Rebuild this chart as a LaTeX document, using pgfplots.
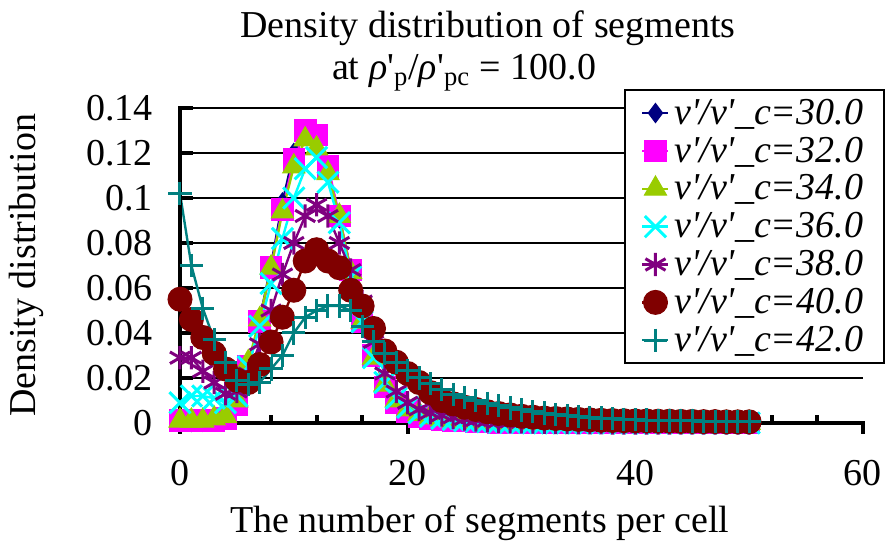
\documentclass[border=0pt]{standalone}
\usepackage{fontspec}
\setmainfont{Liberation Serif}
\usepackage{pgfplots}
\usepackage{pgfplotstable}
\pgfplotsset{compat=1.18}
\definecolor{cnavy}{HTML}{000080}
\definecolor{cmag}{HTML}{FF00FF}
\definecolor{clime}{HTML}{99CC00}
\definecolor{ccyan}{HTML}{00FFFF}
\definecolor{cpurp}{HTML}{800080}
\definecolor{cdred}{HTML}{800000}
\definecolor{cteal}{HTML}{008080}
\newcommand{\fs}{\fontsize{19}{22}\selectfont}
\newcommand{\ap}{\textquotesingle}
\pgfplotstableread{
x s30 s32 s34 s36 s38 s40 s42
0 0.0005 0.001 0.001 0.009 0.029 0.055 0.102
1 0.0005 0.001 0.001 0.012 0.029 0.046 0.070
2 0.0006 0.001 0.001 0.012 0.023 0.038 0.051
3 0.001 0.001 0.002 0.011 0.018 0.031 0.037
4 0.002 0.002 0.003 0.009 0.013 0.024 0.027
5 0.008 0.008 0.010 0.012 0.014 0.019 0.019
6 0.024 0.025 0.027 0.025 0.022 0.018 0.017
7 0.046 0.045 0.046 0.043 0.035 0.026 0.018
8 0.070 0.069 0.069 0.062 0.050 0.036 0.024
9 0.098 0.095 0.094 0.082 0.066 0.047 0.030
10 0.120 0.117 0.114 0.100 0.080 0.059 0.040
11 0.128 0.130 0.126 0.113 0.092 0.072 0.047
12 0.126 0.128 0.122 0.118 0.097 0.077 0.050
13 0.113 0.114 0.111 0.107 0.092 0.072 0.052
14 0.091 0.092 0.092 0.089 0.080 0.069 0.052
15 0.068 0.068 0.067 0.065 0.068 0.059 0.050
16 0.045 0.045 0.045 0.045 0.054 0.052 0.043
17 0.030 0.030 0.029 0.029 0.036 0.042 0.036
18 0.017 0.016 0.017 0.018 0.022 0.032 0.031
19 0.010 0.009 0.010 0.011 0.014 0.027 0.027
20 0.006 0.005 0.006 0.007 0.009 0.022 0.0235
21 0.0035 0.003 0.004 0.0045 0.006 0.018 0.020
22 0.002 0.002 0.0025 0.003 0.0045 0.0135 0.0175
23 0.0015 0.0015 0.0017 0.002 0.0035 0.010 0.015
24 0.001 0.001 0.0011 0.0015 0.0025 0.0085 0.0128
25 0.0007 0.0008 0.0008 0.001 0.0018 0.007 0.0113
26 0.0005 0.0006 0.0005 0.0007 0.0013 0.006 0.010
27 0.0003 0.0004 0.0003 0.0005 0.001 0.005 0.0088
28 0.0002 0.0003 0.0002 0.0003 0.0008 0.0042 0.0077
29 0.0001 0.0002 0.0001 0.0002 0.0006 0.0036 0.0067
30 0.0001 0.0001 0.0001 0.0001 0.0005 0.003 0.0058
31 0 0 0 0 0.0004 0.0026 0.005
32 0 0 0 0 0.0003 0.0022 0.0044
33 0 0 0 0 0.0002 0.002 0.0038
34 0 0 0 0 0.0002 0.0018 0.0033
35 0 0 0 0 0.0001 0.0016 0.0029
36 0 0 0 0 0.0001 0.0014 0.0025
37 0 0 0 0 0.0001 0.0012 0.0022
38 0 0 0 0 0 0.0011 0.0019
39 0 0 0 0 0 0.001 0.0017
40 0 0 0 0 0 0.0009 0.0015
41 0 0 0 0 0 0.0009 0.0013
42 0 0 0 0 0 0.0008 0.0012
43 0 0 0 0 0 0.0008 0.0011
44 0 0 0 0 0 0.0007 0.001
45 0 0 0 0 0 0.0007 0.0009
46 0 0 0 0 0 0.0006 0.0008
47 0 0 0 0 0 0.0006 0.0008
48 0 0 0 0 0 0.0005 0.0007
49 0 0 0 0 0 0.0005 0.0007
50 0 0 0 0 0 0.0005 0.0006
}\data
\begin{document}
\begin{tikzpicture}
\begin{axis}[
  scale only axis, width=341.5pt, height=157.5pt,
  xmin=0, xmax=60, ymin=0, ymax=0.14,
  axis x line*=bottom, axis y line*=left,
  axis line style={line width=2pt, -},
  xtick={0,20,40,60}, xticklabels={0,20,40,60},
  minor x tick num=4,
  ytick={0,0.02,0.04,0.06,0.08,0.1,0.12,0.14},
  yticklabels={0,0.02,0.04,0.06,0.08,0.1,0.12,0.14},
  tick align=inside,
  major tick length=6.5pt, minor tick length=4pt,
  every tick/.style={black, line width=2pt},
  every major x tick/.append style={yshift=-5.5pt},
  ymajorgrids, major grid style={black, line width=1pt},
  tick label style={font=\fs},
  yticklabel style={xshift=-10pt},
  xticklabel style={yshift=-15pt},
  clip=false,
  legend style={at={(rel axis cs:1.032,1.060)}, anchor=north east,
    draw=black, line width=1pt, fill=white, font=\fs\itshape,
    inner xsep=8pt, inner ysep=2pt, nodes={inner sep=2.4pt}},
  legend cell align=left,
  legend image code/.code={\draw[mark repeat=2,mark phase=2] plot coordinates {(0pt,0pt) (6.5pt,0pt) (13pt,0pt)};},
]
\addplot[color=cnavy, line width=1.2pt, mark=diamond*, mark size=4.8pt, mark options={solid, fill=cnavy, line width=0.5pt}] table[x=x,y=s30]{\data};
\addlegendentry{v\ap/v\ap\_c=30.0}
\addplot[color=cmag, line width=1.2pt, mark=square*, mark size=5.4pt, mark options={solid, fill=cmag, line width=0.5pt}] table[x=x,y=s32]{\data};
\addlegendentry{v\ap/v\ap\_c=32.0}
\addplot[color=clime, line width=1.2pt, mark=triangle*, mark size=6.4pt, mark options={solid, fill=clime, line width=0.5pt}] table[x=x,y=s34]{\data};
\addlegendentry{v\ap/v\ap\_c=34.0}
\addplot[color=ccyan, line width=1.2pt, mark=x, mark size=7.5pt, mark options={solid, line width=1.5pt}] table[x=x,y=s36]{\data};
\addlegendentry{v\ap/v\ap\_c=36.0}
\addplot[color=cpurp, line width=1.2pt, mark=asterisk, mark size=5.8pt, mark options={solid, line width=1.5pt}] table[x=x,y=s38]{\data};
\addlegendentry{v\ap/v\ap\_c=38.0}
\addplot[color=cdred, line width=1.2pt, mark=*, mark size=6pt, mark options={solid, fill=cdred, line width=0.5pt}] table[x=x,y=s40]{\data};
\addlegendentry{v\ap/v\ap\_c=40.0}
\addplot[color=cteal, line width=1.2pt, mark=+, mark size=5.8pt, mark options={solid, line width=1.5pt}] table[x=x,y=s42]{\data};
\addlegendentry{v\ap/v\ap\_c=42.0}
\coordinate (O) at (rel axis cs:0,0);
\draw[line width=2pt, black] ([yshift=-2pt]rel axis cs:0,0) -- ([yshift=1pt]rel axis cs:0,1);
\node[font=\fs, anchor=base] at ([yshift=35pt]rel axis cs:0.451,1) {Density distribution of segments};
\node[font=\fs, anchor=base] at ([yshift=14pt]rel axis cs:0.416,1) {at {\itshape ρ}\ap\textsubscript{p}/{\itshape ρ}\ap\textsubscript{pc} = 100.0};
\node[font=\fs, anchor=base] at ([yshift=-55pt]rel axis cs:0.439,0) {The number of segments per cell};
\node[font=\fs, anchor=base, rotate=90] at ([xshift=-72pt]rel axis cs:0,0.5) {Density distribution};
\end{axis}
\path ([xshift=-90pt,yshift=-63pt]O) rectangle ([xshift=355pt,yshift=211.5pt]O);
\end{tikzpicture}
\end{document}
